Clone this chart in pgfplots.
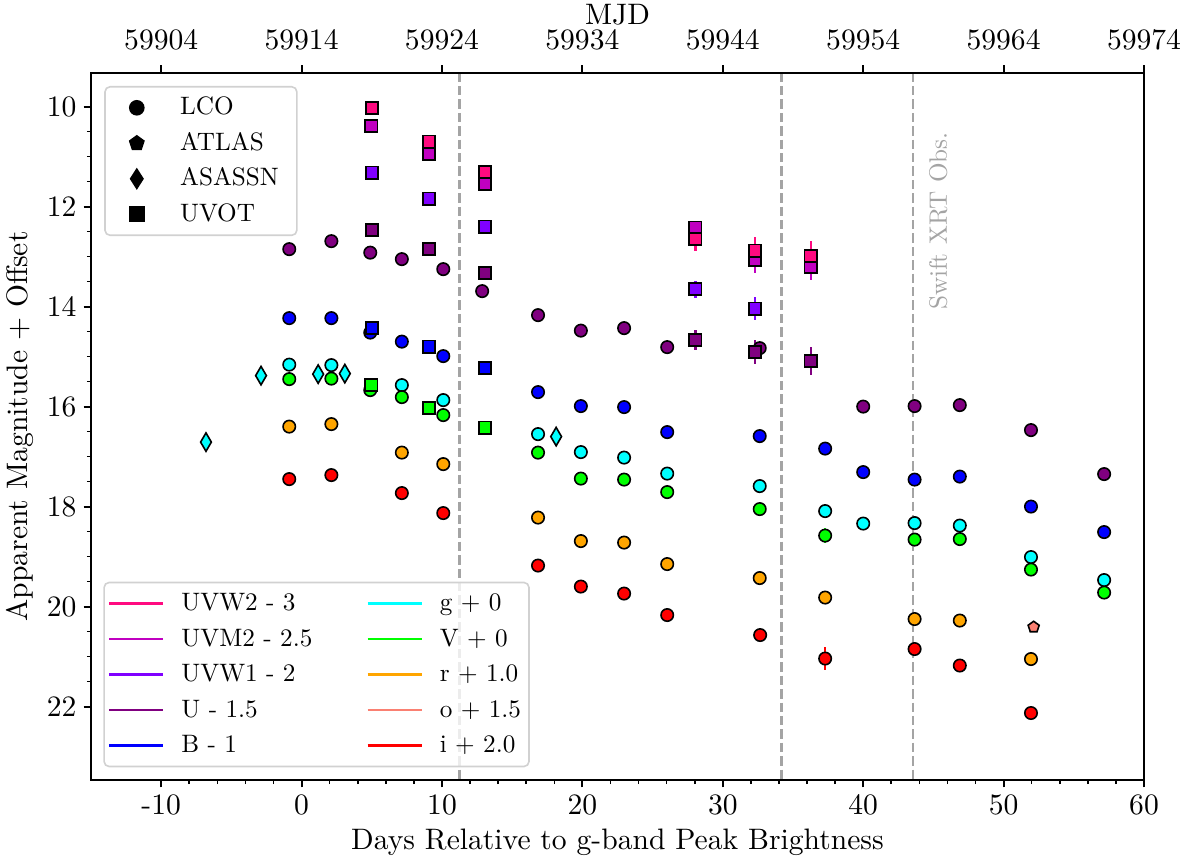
\documentclass[border=0pt]{standalone}
\usepackage{pgfplots}
\pgfplotsset{compat=1.18}
\usetikzlibrary{plotmarks}
\font\lmlab="[lmroman10-regular]:mapping=tex-text" at 14.8pt
\font\lmleg="[lmroman10-regular]:mapping=tex-text" at 12.6pt
\definecolor{cWtwo}{HTML}{FF0A80}
\definecolor{cMtwo}{HTML}{C000C0}
\definecolor{cWone}{HTML}{8000FF}
\definecolor{cU}{HTML}{800080}
\definecolor{cB}{HTML}{0000FF}
\definecolor{cg}{HTML}{00FFFF}
\definecolor{cV}{HTML}{00FF00}
\definecolor{cr}{HTML}{FFA500}
\definecolor{co}{HTML}{FA8072}
\definecolor{ci}{HTML}{FF0000}
\definecolor{xrt}{HTML}{A4A4A4}
\pgfplotsset{
  errb/.style={error bars/y dir=both, error bars/y explicit, error bars/error mark=none,
    error bars/error bar style={line width=1.1pt, color=#1}},
  lco/.style={only marks, mark=*, mark size=3.1pt, mark options={draw=black, line width=0.8pt, fill=#1}, errb=#1},
  uvot/.style={only marks, mark=square*, mark size=3.05pt, mark options={draw=black, line width=0.9pt, fill=#1}, errb=#1},
  asassn/.style={only marks, mark=diamond*, mark size=4.6pt, mark options={draw=black, line width=0.8pt, fill=#1, xscale=0.78}},
  atlas/.style={only marks, mark=pentagon*, mark size=2.9pt, mark options={draw=black, line width=0.8pt, fill=#1}},
  vline/.style={xrt, line width=1.25pt, dash pattern=on 4.7pt off 2pt, forget plot},
}
\begin{document}
\begin{tikzpicture}
\begin{axis}[name=main,
  scale only axis, width=526.5pt, height=353.65pt,
  xmin=-15, xmax=60, ymin=9.32, ymax=23.47, y dir=reverse,
  xtick={-10,0,...,60}, ytick={10,12,...,22},
  minor x tick num=4, minor y tick num=3,
  tick pos=left, tick align=outside,
  major tick length=3.7pt, minor tick length=2pt,
  every major tick/.append style={line width=1pt, black},
  every minor tick/.append style={line width=0.8pt, black},
  axis line style={line width=1.1pt},
  /pgf/number format/assume math mode=true,
  font=\lmlab,
  xlabel={Days Relative to g-band Peak Brightness},
  ylabel={Apparent Magnitude + Offset},
  legend columns=2,
  legend image code/.code={\draw[#1, line width=1.2pt] (0pt,0pt) -- (27pt,0pt); \path (33.7pt,0pt);},
  legend style={at={(0,0)}, anchor=south west, xshift=6.15pt, yshift=6.35pt,
    draw=black!18, line width=0.8pt, rounded corners=2.5pt, fill=white, fill opacity=0.8, text opacity=1,
    font=\lmleg, legend cell align=left, inner xsep=2pt, inner ysep=2pt,
    nodes={inner sep=2pt, text height=10pt, text depth=3pt},
    row sep=0.75pt,
    /tikz/every even column/.append style={column sep=25pt}},
]
\addplot[vline] coordinates {(11.23,9.32) (11.23,23.47)};
\addplot[vline] coordinates {(34.17,9.32) (34.17,23.47)};
\addplot[vline] coordinates {(43.56,9.32) (43.56,23.47)};
\node[rotate=90, text=xrt, font=\lmleg] at (axis cs:45.34,12.29) {Swift XRT Obs.};
% LCO
\addplot[lco=cU, forget plot] coordinates {(-0.88,12.85) (2.12,12.69) (4.89,12.92) (7.14,13.05) (10.09,13.25) (12.86,13.69) (16.84,14.17) (19.89,14.48) (22.97,14.43) (26.04,14.81) (32.63,14.83) (40.0,16.0) (43.66,15.99) (46.88,15.97) (51.95,16.47) (57.16,17.35)};
\addplot[lco=cB, forget plot] coordinates {(-0.88,14.23) (2.12,14.23) (4.89,14.52) (7.14,14.70) (10.09,14.99) (16.84,15.71) (19.89,15.99) (22.97,16.01) (26.04,16.51) (32.63,16.59) (37.29,16.84) (40.0,17.31) (43.66,17.46) (46.88,17.40) (51.95,18.0) (57.16,18.51)};
\addplot[lco=cg, forget plot] coordinates {(-0.88,15.16) (2.12,15.17) (7.14,15.57) (10.09,15.87) (16.84,16.55) (19.89,16.91) (22.97,17.02) (26.04,17.34) (32.63,17.59) (37.29,18.09) (40.0,18.34) (43.66,18.33) (46.88,18.38) (51.95,19.01) (57.16,19.47)};
\addplot[lco=cV, forget plot] coordinates {(-0.88,15.45) (2.12,15.44) (4.89,15.67) (7.14,15.81) (10.09,16.17) (16.84,16.92) (19.89,17.44) (22.97,17.46) (26.04,17.71) (32.63,18.05) (37.29,18.58) +- (0,0.15) (43.66,18.66) +- (0,0.08) (46.88,18.65) (51.95,19.26) (57.16,19.72) +- (0,0.1)};
\addplot[lco=cr, forget plot] coordinates {(-0.88,16.40) (2.12,16.35) (7.14,16.92) (10.09,17.15) (16.84,18.22) (19.89,18.69) (22.97,18.72) (26.04,19.15) (32.63,19.43) (37.29,19.82) +- (0,0.08) (43.66,20.25) (46.88,20.28) +- (0,0.05) (51.95,21.05)};
\addplot[lco=ci, forget plot] coordinates {(-0.88,17.45) (2.12,17.37) (7.14,17.73) (10.09,18.13) (16.84,19.18) (19.89,19.60) (22.97,19.74) (26.04,20.17) (32.66,20.57) (37.29,21.04) +- (0,0.23) (43.66,20.85) +- (0,0.1) (46.88,21.18) (51.95,22.13) +- (0,0.1)};
% ASASSN and ATLAS
\addplot[asassn=cg, forget plot] coordinates {(-6.81,16.71) (-2.89,15.38) (1.18,15.35) (3.08,15.34) (18.13,16.60)};
\addplot[atlas=co, forget plot] coordinates {(52.14,20.41)};
% UVOT
\addplot[uvot=cMtwo, forget plot] coordinates {(4.97,10.39) (9.07,10.95) (13.05,11.55) (28.05,12.42) +- (0,0.14) (32.28,13.07) +- (0,0.25) (36.26,13.20) +- (0,0.27)};
\addplot[uvot=cWtwo, forget plot] coordinates {(5.03,10.03) (9.07,10.70) (13.05,11.31) (28.05,12.65) +- (0,0.23) (32.28,12.88) +- (0,0.27) (36.26,12.99) +- (0,0.31)};
\addplot[uvot=cWone, forget plot] coordinates {(5.03,11.32) (9.07,11.84) (13.05,12.40) (28.05,13.65) +- (0,0.17) (32.28,14.04) +- (0,0.23)};
\addplot[uvot=cU, forget plot] coordinates {(5.03,12.47) (9.07,12.85) (13.05,13.33) (28.05,14.67) +- (0,0.2) (32.28,14.91) +- (0,0.24) (36.26,15.09) +- (0,0.28)};
\addplot[uvot=cB, forget plot] coordinates {(5.03,14.43) (9.07,14.80) (13.05,15.23)};
\addplot[uvot=cV, forget plot] coordinates {(4.97,15.57) (9.07,16.03) (13.05,16.42) +- (0,0.12)};
% legend
\addlegendimage{cWtwo}\addlegendentry{UVW2 - 3}
\addlegendimage{cg}\addlegendentry{g + 0}
\addlegendimage{cMtwo}\addlegendentry{UVM2 - 2.5}
\addlegendimage{cV}\addlegendentry{V + 0}
\addlegendimage{cWone}\addlegendentry{UVW1 - 2}
\addlegendimage{cr}\addlegendentry{r + 1.0}
\addlegendimage{cU}\addlegendentry{U - 1.5}
\addlegendimage{co}\addlegendentry{o + 1.5}
\addlegendimage{cB}\addlegendentry{B - 1}
\addlegendimage{ci}\addlegendentry{i + 2.0}
\end{axis}
\begin{axis}[
  scale only axis, width=526.5pt, height=353.65pt,
  xmin=59899, xmax=59974, ymin=9.32, ymax=23.47, y dir=reverse,
  axis x line*=top, axis y line=none,
  xtick={59904,59914,...,59974}, minor x tick num=4,
  scaled x ticks=false,
  xticklabel style={yshift=4pt},
  xlabel style={yshift=-4.5pt},
  tick align=outside,
  major tick length=3.7pt, minor tick length=2pt,
  every major tick/.append style={line width=1pt, black},
  every minor tick/.append style={line width=0.8pt, black},
  axis line style={line width=1.1pt},
  /pgf/number format/assume math mode=true,
  /pgf/number format/1000 sep={},
  font=\lmlab,
  xlabel={MJD},
  legend image code/.code={\path (0pt,0pt) (32.75pt,0pt); \path[#1] plot coordinates {(13.5pt,0pt)};},
  legend style={at={(0,1)}, anchor=north west, xshift=6.6pt, yshift=-6.65pt,
    draw=black!18, line width=0.8pt, rounded corners=2.5pt, fill=white,
    font=\lmleg, legend cell align=left, inner xsep=2pt, inner ysep=2pt,
    nodes={inner sep=2pt, text height=10pt, text depth=3pt},
    row sep=0.75pt},
]
\addplot[draw=none, forget plot] coordinates {(59900,10)};
\addlegendimage{black, mark=*, mark size=3.5pt}\addlegendentry{LCO}
\addlegendimage{black, mark=pentagon*, mark size=3.7pt}\addlegendentry{ATLAS}
\addlegendimage{black, mark=diamond*, mark size=4.8pt, mark options={xscale=0.85}}\addlegendentry{ASASSN\kern5pt}
\addlegendimage{black, mark=square*, mark size=3.6pt}\addlegendentry{UVOT}
\end{axis}
\pgfresetboundingbox
\path[use as bounding box] ([xshift=-45.5pt,yshift=-40pt]main.south west) rectangle ([xshift=18.5pt,yshift=36.35pt]main.north east);
\end{tikzpicture}
\end{document}
